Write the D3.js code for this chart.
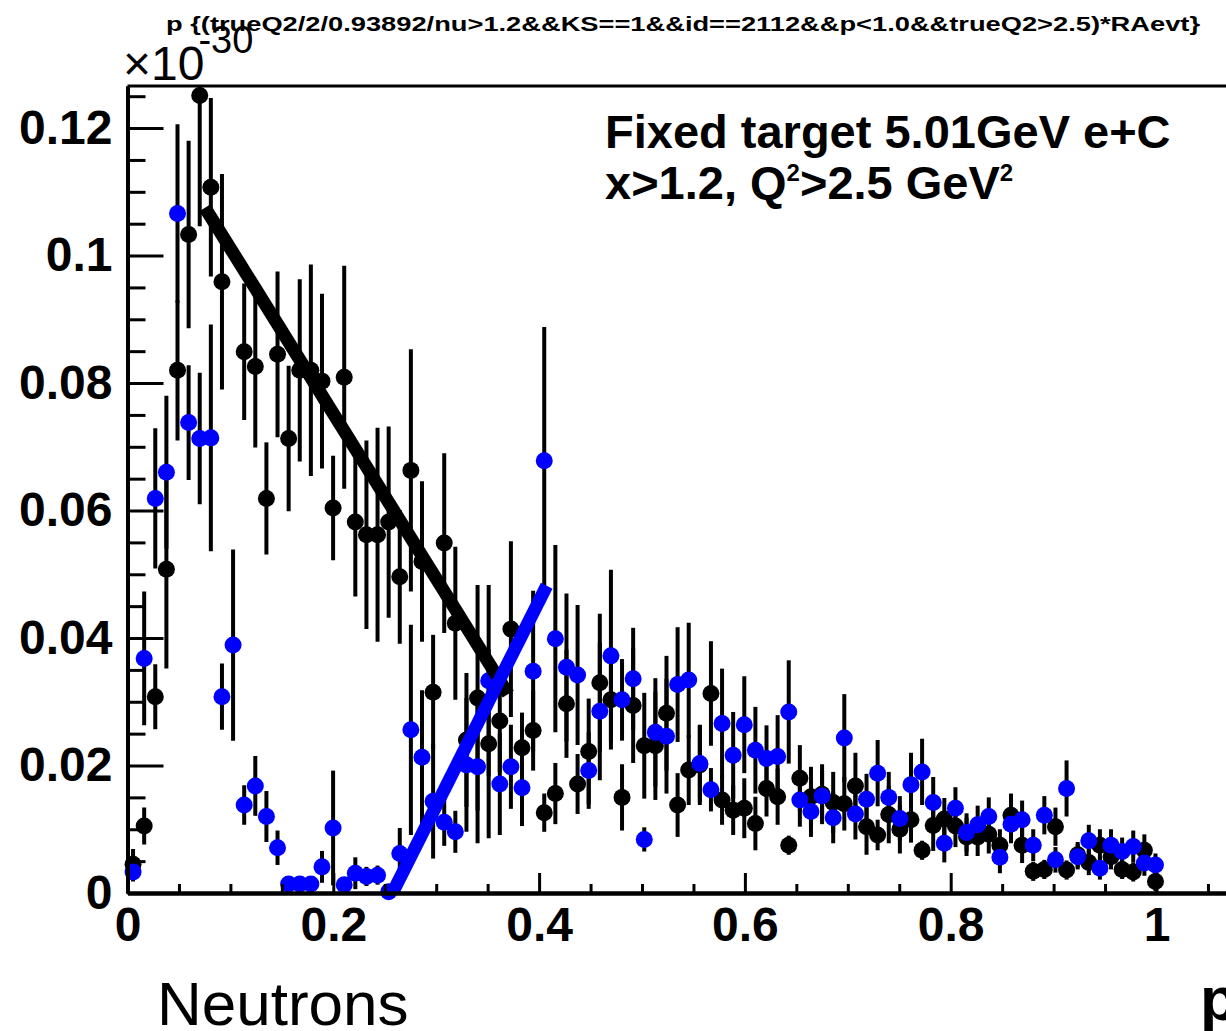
<!DOCTYPE html>
<html>
<head>
<meta charset="utf-8">
<script src="https://cdn.jsdelivr.net/npm/d3@7"></script>
<style>
  body { margin: 0; background: #fff; }
  svg { display: block; }
  text { font-family: "Liberation Sans", Arial, Helvetica, sans-serif; }
</style>
</head>
<body>
<svg id="chart" width="1226" height="1031"></svg>
<script>
// Histogram definition: 100 bins over [xLow, xHigh]
const nBins = 100;
const xLow = 0;
const xHigh = 1.08;
const yMax = 0.1266;

// Bin contents and errors (×10^-30), bins 0..92; null = empty bin
const blackValues = [
  0.0045, 0.0105, 0.0308, 0.0508, 0.0820, 0.1033, 0.1251, 0.1107, 0.0959, null,
  0.0849, 0.0826, 0.0619, 0.0845, 0.0713, 0.0820, 0.0820, 0.0803, 0.0604, 0.0809,
  0.0582, 0.0562, 0.0562, 0.0582, 0.0496, 0.0663, 0.0520, 0.0315, 0.0549, 0.0423,
  0.0240, 0.0306, 0.0234, 0.0270, 0.0414, 0.0228, 0.0255, 0.0126, 0.0156, 0.0297,
  0.0171, 0.0222, 0.0330, 0.0303, 0.0150, 0.0294, 0.0231, 0.0231, 0.0282, 0.0138,
  0.0193, 0.0201, 0.0313, 0.0146, 0.0130, 0.0133, 0.0109, 0.0164, 0.0151, 0.0075,
  0.0180, 0.0151, 0.0155, 0.0142, 0.0140, 0.0168, 0.0104, 0.0091, 0.0123, 0.0100,
  0.0115, 0.0067, 0.0106, 0.0116, 0.0105, 0.0088, 0.0088, 0.0092, 0.0075, 0.0122,
  0.0075, 0.0034, 0.0037, 0.0104, 0.0036, 0.0060, 0.0048, 0.0075, 0.0057, 0.0037,
  0.0033, 0.0067, 0.0018
];
const blackErrors = [
  0.0024, 0.0029, 0.0051, 0.0156, 0.0110, 0.0147, 0.0205, 0.0140, 0.0169, null,
  0.0107, 0.0127, 0.0088, 0.0130, 0.0114, 0.0143, 0.0166, 0.0137, 0.0082, 0.0175,
  0.0117, 0.0148, 0.0168, 0.0150, 0.0105, 0.0190, 0.0126, 0.0090, 0.0141, 0.0120,
  0.0105, 0.0177, 0.0148, 0.0080, 0.0138, 0.0055, 0.0063, 0.0030, 0.0048, 0.0085,
  0.0047, 0.0083, 0.0108, 0.0078, 0.0052, 0.0090, 0.0083, 0.0085, 0.0090, 0.0050,
  0.0055, 0.0063, 0.0082, 0.0039, 0.0039, 0.0047, 0.0042, 0.0044, 0.0044, 0.0015,
  0.0052, 0.0047, 0.0047, 0.0048, 0.0042, 0.0052, 0.0044, 0.0024, 0.0045, 0.0038,
  0.0036, 0.0015, 0.0040, 0.0033, 0.0033, 0.0030, 0.0030, 0.0030, 0.0025, 0.0034,
  0.0028, 0.0015, 0.0015, 0.0030, 0.0015, 0.0020, 0.0020, 0.0025, 0.0020, 0.0015,
  0.0015, 0.0025, 0.0015
];
const blueValues = [
  0.0033, 0.0368, 0.0619, 0.0660, 0.1066, 0.0738, 0.0713, 0.0714, 0.0308, 0.0389,
  0.0138, 0.0168, 0.0120, 0.0071, 0.0014, 0.0014, 0.0014, 0.0041, 0.0102, 0.0013,
  0.0031, 0.0026, 0.0028, 0.0002, 0.0062, 0.0256, 0.0213, 0.0144, 0.0111, 0.0096,
  0.0201, 0.0198, 0.0333, 0.0171, 0.0198, 0.0165, 0.0348, 0.0678, 0.0399, 0.0354,
  0.0342, 0.0192, 0.0285, 0.0372, 0.0303, 0.0336, 0.0084, 0.0252, 0.0246, 0.0327,
  0.0334, 0.0203, 0.0162, 0.0266, 0.0216, 0.0264, 0.0224, 0.0211, 0.0214, 0.0284,
  0.0146, 0.0128, 0.0152, 0.0118, 0.0243, 0.0124, 0.0147, 0.0188, 0.0150, 0.0117,
  0.0170, 0.0190, 0.0142, 0.0078, 0.0133, 0.0095, 0.0107, 0.0120, 0.0056, 0.0108,
  0.0115, 0.0075, 0.0122, 0.0052, 0.0164, 0.0057, 0.0082, 0.0039, 0.0075, 0.0065,
  0.0073, 0.0047, 0.0044
];
const blueErrors = [
  0.0015, 0.0105, 0.0110, 0.0120, 0.0140, 0.0090, 0.0103, 0.0178, 0.0052, 0.0150,
  0.0031, 0.0047, 0.0040, 0.0027, 0.0008, 0.0008, 0.0008, 0.0025, 0.0090, 0.0010,
  0.0025, 0.0015, 0.0015, 0.0008, 0.0040, 0.0165, 0.0105, 0.0090, 0.0037, 0.0033,
  0.0105, 0.0120, 0.0150, 0.0080, 0.0066, 0.0060, 0.0126, 0.0210, 0.0147, 0.0116,
  0.0110, 0.0060, 0.0108, 0.0135, 0.0064, 0.0080, 0.0019, 0.0085, 0.0090, 0.0090,
  0.0090, 0.0060, 0.0034, 0.0086, 0.0068, 0.0076, 0.0068, 0.0052, 0.0065, 0.0081,
  0.0042, 0.0040, 0.0040, 0.0040, 0.0069, 0.0040, 0.0040, 0.0052, 0.0040, 0.0035,
  0.0050, 0.0052, 0.0040, 0.0030, 0.0033, 0.0030, 0.0030, 0.0030, 0.0025, 0.0030,
  0.0030, 0.0025, 0.0030, 0.0020, 0.0044, 0.0020, 0.0025, 0.0018, 0.0025, 0.0022,
  0.0025, 0.0020, 0.0018
];

// Straight guide lines drawn over the histograms: [p, value] end points
const blackGuide = [[0.0753, 0.1075], [0.370, 0.0312]];
const blueGuide = [[0.259, 0.0005], [0.4074, 0.0482]];

// Axis ticks and labels
const xMajorTicks = [0, 0.2, 0.4, 0.6, 0.8, 1.0];
const xTickLabels = ["0", "0.2", "0.4", "0.6", "0.8", "1"];
const xMinorTicks = [0.05, 0.1, 0.15, 0.25, 0.3, 0.35, 0.45, 0.5, 0.55, 0.65, 0.7, 0.75, 0.85, 0.9, 0.95, 1.05];
const yMajorTicks = [0, 0.02, 0.04, 0.06, 0.08, 0.10, 0.12];
const yTickLabels = ["0", "0.02", "0.04", "0.06", "0.08", "0.1", "0.12"];
const yMinorTicks = [0.005, 0.01, 0.015, 0.025, 0.03, 0.035, 0.045, 0.05, 0.055, 0.065, 0.07, 0.075,
                     0.085, 0.09, 0.095, 0.105, 0.11, 0.115, 0.125];

const titleText = "p {(trueQ2/2/0.93892/nu>1.2&&KS==1&&id==2112&&p<1.0&&trueQ2>2.5)*RAevt}";

// ---- layout ----
const frame = { left: 127.5, top: 86, bottom: 893 };
const pxPerUnit = 1029;

const svg = d3.select("#chart");
svg.append("rect").attr("width", 1226).attr("height", 1031).attr("fill", "#fff");

const x = d3.scaleLinear().domain([xLow, xHigh])
  .range([frame.left, frame.left + pxPerUnit * (xHigh - xLow)]);
const y = d3.scaleLinear().domain([0, yMax]).range([frame.bottom, frame.top]);

const binWidth = (xHigh - xLow) / nBins;
const binCenter = i => xLow + (i + 0.5) * binWidth;

function series(values, errors) {
  return values.map((v, i) => ({ i, v, e: errors[i] })).filter(d => d.v !== null);
}
const blackData = series(blackValues, blackErrors);
const blueData = series(blueValues, blueErrors);

// clip error bars to the frame
svg.append("clipPath").attr("id", "frameClip")
  .append("rect")
  .attr("x", frame.left).attr("y", frame.top)
  .attr("width", 1226 - frame.left).attr("height", frame.bottom - frame.top);

const plot = svg.append("g");

function drawBars(data) {
  plot.append("g").attr("clip-path", "url(#frameClip)")
    .selectAll("line").data(data).join("line")
    .attr("x1", d => x(binCenter(d.i))).attr("x2", d => x(binCenter(d.i)))
    .attr("y1", d => y(d.v + d.e)).attr("y2", d => y(Math.max(0, d.v - d.e)))
    .attr("stroke", "#000").attr("stroke-width", 4);
}
function drawMarkers(data, color) {
  plot.append("g")
    .selectAll("circle").data(data).join("circle")
    .attr("cx", d => x(binCenter(d.i))).attr("cy", d => y(d.v))
    .attr("r", 8.5).attr("fill", color);
}

drawBars(blackData);
drawMarkers(blackData, "#000");
drawBars(blueData);
drawMarkers(blueData, "#0000ff");

// guide lines
const guide = d3.line().x(d => x(d[0])).y(d => y(d[1]));
plot.append("path").attr("d", guide(blackGuide))
  .attr("stroke", "#000").attr("stroke-width", 13).attr("fill", "none");
plot.append("path").attr("d", guide(blueGuide))
  .attr("stroke", "#0000ff").attr("stroke-width", 13).attr("fill", "none");

// ---- axes ----
const yAxis = d3.axisLeft(y).tickValues(yMajorTicks)
  .tickFormat((d, i) => yTickLabels[i]).tickSize(-36).tickSizeOuter(0).tickPadding(15);
const yMinor = d3.axisLeft(y).tickValues(yMinorTicks).tickFormat("").tickSize(-18).tickSizeOuter(0);
const xAxis = d3.axisBottom(x).tickValues(xMajorTicks)
  .tickFormat((d, i) => xTickLabels[i]).tickSize(-20).tickSizeOuter(0).tickPadding(14);
const xMinor = d3.axisBottom(x).tickValues(xMinorTicks).tickFormat("").tickSize(-9).tickSizeOuter(0);

function styleAxis(g) {
  g.selectAll("path.domain").attr("stroke", "#000").attr("stroke-width", 4);
  g.selectAll(".tick line").attr("stroke", "#000").attr("stroke-width", 3);
  g.selectAll(".tick text")
    .attr("fill", "#000")
    .style("font-family", '"Liberation Sans", Arial, sans-serif')
    .style("font-weight", "bold")
    .style("font-size", "48px");
}

svg.append("g").attr("transform", `translate(${frame.left},0)`).call(yMinor).call(styleAxis);
svg.append("g").attr("transform", `translate(${frame.left},0)`).call(yAxis).call(styleAxis);
svg.append("g").attr("transform", `translate(0,${frame.bottom})`).call(xMinor).call(styleAxis);
svg.append("g").attr("transform", `translate(0,${frame.bottom})`).call(xAxis).call(styleAxis);

// top frame line
svg.append("line")
  .attr("x1", frame.left).attr("x2", 1226)
  .attr("y1", frame.top).attr("y2", frame.top)
  .attr("stroke", "#000").attr("stroke-width", 3);

// ---- texts ----
svg.append("text")
  .attr("x", 166).attr("y", 31)
  .attr("textLength", 1034).attr("lengthAdjust", "spacingAndGlyphs")
  .style("font-size", "21px").style("font-weight", "bold")
  .text(titleText);

const expo = svg.append("text").attr("x", 123).attr("y", 80).style("font-size", "48px");
expo.append("tspan").text("×10");
expo.append("tspan").attr("dy", -27).attr("dx", -6).style("font-size", "38px").text("-30");

svg.append("text").attr("x", 605).attr("y", 148)
  .style("font-size", "47px").style("font-weight", "bold")
  .text("Fixed target 5.01GeV e+C");
const note2 = svg.append("text").attr("x", 605).attr("y", 199)
  .style("font-size", "47px").style("font-weight", "bold");
note2.append("tspan").text("x>1.2, Q");
note2.append("tspan").attr("dy", -18).style("font-size", "24px").text("2");
note2.append("tspan").attr("dy", 18).text(">2.5 GeV");
note2.append("tspan").attr("dy", -18).style("font-size", "24px").text("2");

svg.append("text").attr("x", 157).attr("y", 1025)
  .style("font-size", "62px")
  .text("Neutrons");

svg.append("text").attr("x", 1200).attr("y", 1020)
  .style("font-size", "62px").style("font-weight", "bold")
  .text("p");
</script>
</body>
</html>
